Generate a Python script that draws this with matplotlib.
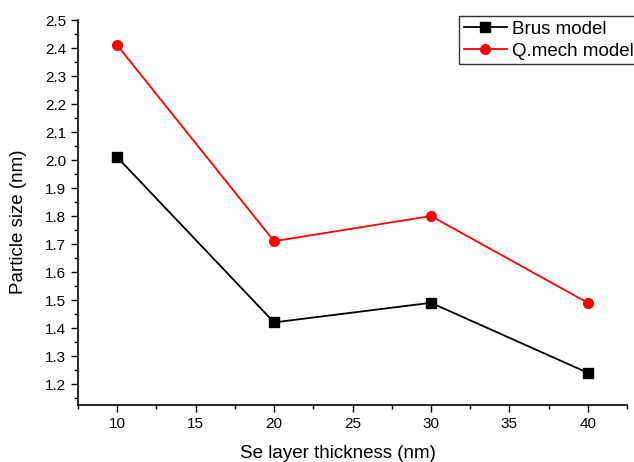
import matplotlib
matplotlib.use("Agg")
import matplotlib.pyplot as plt
from matplotlib.ticker import MultipleLocator

thickness = [10, 20, 30, 40]
brus = [2.01, 1.42, 1.49, 1.24]
qmech = [2.41, 1.71, 1.80, 1.49]
yticks = [1.2, 1.3, 1.4, 1.5, 1.6, 1.7, 1.8, 1.9, 2.0, 2.1, 2.2, 2.3, 2.4, 2.5]
xticks = [10, 15, 20, 25, 30, 35, 40]

plt.rcParams['font.family'] = ['Liberation Sans', 'DejaVu Sans']

fig = plt.figure(figsize=(6.34, 4.62), dpi=100)
ax = fig.add_axes([78/634, 1-405/462, (627-78)/634, (405-20)/462])

ax.plot(thickness, brus, color='black', marker='s', markersize=6.5, linewidth=1.3, label='Brus model')
ax.plot(thickness, qmech, color='red', marker='o', markersize=7, linewidth=1.3, label='Q.mech model')

ax.set_xlim(7.5, 42.5)
ax.set_ylim(1.125, 2.5)
ax.set_xticks(xticks)
ax.xaxis.set_minor_locator(MultipleLocator(2.5))
ax.set_yticks(yticks)
ax.set_yticklabels([f"{v:.1f}" for v in yticks])
ax.yaxis.set_minor_locator(MultipleLocator(0.05))

for s in ['top', 'right']:
    ax.spines[s].set_visible(False)
for s in ['left', 'bottom']:
    ax.spines[s].set_linewidth(1.2)
ax.tick_params(which='major', direction='out', length=5, width=1, labelsize=11)
ax.tick_params(which='minor', direction='out', length=3, width=1)

fig.text(338/634, 1-453/462, 'Se layer thickness (nm)', fontsize=13.5, ha='center', va='center')
fig.text(19/634, 1-222/462, 'Particle size (nm)', fontsize=13.5, ha='center', va='center', rotation=90)

leg = ax.legend(loc='upper left', bbox_to_anchor=(459/634, 1-16/462), bbox_transform=fig.transFigure,
                fontsize=13.5, frameon=True, fancybox=False, edgecolor='black', handlelength=2.3,
                borderpad=0.25, labelspacing=0.25, handletextpad=0.25, borderaxespad=0)
leg.get_frame().set_linewidth(1.0)

fig.savefig('out.png', dpi=100)
